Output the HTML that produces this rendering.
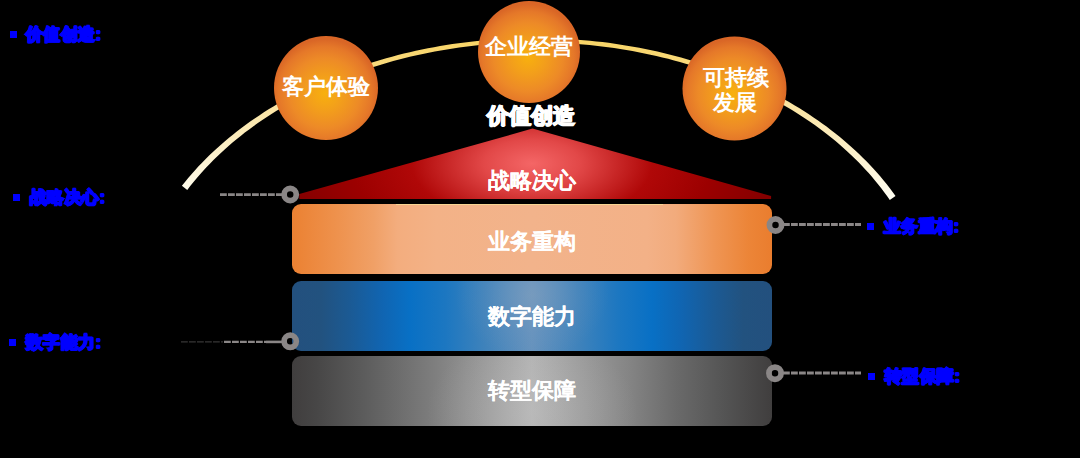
<!DOCTYPE html>
<html><head><meta charset="utf-8">
<style>
html,body{margin:0;padding:0;background:#000;}
body{width:1080px;height:458px;position:relative;overflow:hidden;font-family:"Liberation Sans",sans-serif;}
svg{position:absolute;left:0;top:0;}
.t{position:absolute;color:#fff;font-weight:bold;white-space:nowrap;line-height:1;text-shadow:0.3px 0.2px 0 #fff;}
.lb{position:absolute;color:#0000ff;font-weight:bold;white-space:nowrap;line-height:1;font-size:17px;letter-spacing:0.4px;-webkit-text-stroke:1.4px #0000ff;text-shadow:0.8px 0 0 #00f,-0.8px 0 0 #00f,0 0.8px 0 #00f,0 -0.8px 0 #00f;}
.bu{position:absolute;background:#0000ff;width:7px;height:7px;}
</style></head><body>
<svg width="1080" height="458" viewBox="0 0 1080 458">
<defs>
<linearGradient id="arcg" x1="0" y1="40" x2="0" y2="200" gradientUnits="userSpaceOnUse">
<stop offset="0" stop-color="#f8d466"/>
<stop offset="0.45" stop-color="#fbe6a8"/>
<stop offset="1" stop-color="#fffef4"/>
</linearGradient>
<radialGradient id="ball" cx="0.49" cy="0.55" r="0.52">
<stop offset="0" stop-color="#f8b00e"/>
<stop offset="0.3" stop-color="#f3a01a"/>
<stop offset="0.65" stop-color="#ed8a27"/>
<stop offset="0.86" stop-color="#e57829"/>
<stop offset="1" stop-color="#d96626"/>
</radialGradient>
<radialGradient id="tri" cx="532" cy="165" r="240" gradientUnits="userSpaceOnUse" gradientTransform="translate(532 162) scale(1 0.5) translate(-532 -162)">
<stop offset="0" stop-color="#f46666"/>
<stop offset="0.2" stop-color="#e24848"/>
<stop offset="0.5" stop-color="#b00808"/>
<stop offset="0.75" stop-color="#9c0000"/>
<stop offset="1" stop-color="#860000"/>
</radialGradient>
</defs>
<path d="M181.88,185.81 L184.99,181.90 L188.19,178.02 L191.47,174.18 L194.84,170.38 L198.29,166.62 L201.81,162.90 L205.42,159.21 L209.11,155.57 L212.88,151.97 L216.73,148.42 L220.65,144.90 L224.65,141.43 L228.72,138.01 L232.87,134.63 L237.09,131.30 L241.39,128.02 L245.75,124.78 L250.18,121.60 L254.69,118.46 L259.26,115.38 L263.89,112.35 L268.60,109.37 L273.36,106.44 L278.19,103.56 L283.09,100.74 L288.04,97.98 L293.05,95.27 L298.12,92.61 L303.25,90.01 L308.43,87.47 L313.67,84.99 L318.97,82.57 L324.31,80.20 L329.71,77.90 L335.15,75.65 L340.64,73.47 L346.18,71.35 L351.77,69.29 L357.40,67.29 L363.07,65.35 L368.79,63.48 L374.54,61.67 L380.34,59.92 L386.17,58.24 L392.03,56.63 L397.93,55.08 L403.87,53.59 L409.84,52.17 L415.83,50.82 L421.86,49.53 L427.91,48.32 L433.99,47.16 L440.09,46.08 L446.21,45.06 L452.36,44.11 L458.53,43.23 L464.71,42.42 L470.92,41.68 L477.13,41.00 L483.37,40.40 L489.61,39.86 L495.87,39.40 L502.13,39.00 L508.40,38.67 L514.68,38.41 L520.96,38.22 L527.25,38.10 L533.54,38.05 L539.83,38.07 L546.12,38.16 L552.40,38.32 L558.69,38.55 L564.96,38.85 L571.23,39.21 L577.49,39.65 L583.74,40.16 L589.97,40.73 L596.20,41.38 L602.41,42.09 L608.60,42.87 L614.78,43.73 L620.93,44.64 L627.07,45.63 L633.18,46.69 L639.27,47.81 L645.33,49.00 L651.37,50.26 L657.38,51.58 L663.36,52.97 L669.30,54.43 L675.22,55.95 L681.10,57.54 L686.95,59.19 L692.76,60.91 L698.53,62.69 L704.26,64.53 L709.95,66.44 L715.60,68.41 L721.21,70.45 L726.77,72.54 L732.28,74.70 L737.75,76.92 L743.16,79.20 L748.53,81.54 L753.85,83.94 L759.11,86.39 L764.32,88.91 L769.47,91.48 L774.56,94.11 L779.60,96.80 L784.58,99.54 L789.50,102.34 L794.36,105.19 L799.15,108.09 L803.88,111.05 L808.55,114.06 L813.15,117.13 L817.68,120.24 L822.14,123.40 L826.54,126.62 L830.86,129.88 L835.11,133.19 L839.29,136.54 L843.40,139.95 L847.43,143.40 L851.39,146.89 L855.27,150.43 L859.07,154.01 L862.79,157.63 L866.44,161.30 L870.00,165.01 L873.48,168.75 L876.88,172.54 L880.20,176.36 L883.44,180.22 L886.59,184.11 L889.65,188.04 L892.63,192.01 L895.52,196.01 L889.80,200.04 L887.04,196.10 L884.20,192.19 L881.26,188.31 L878.25,184.46 L875.14,180.65 L871.95,176.86 L868.68,173.12 L865.32,169.41 L861.88,165.73 L858.35,162.10 L854.75,158.50 L851.07,154.94 L847.30,151.42 L843.46,147.94 L839.54,144.51 L835.54,141.12 L831.47,137.78 L827.32,134.47 L823.10,131.22 L818.81,128.01 L814.44,124.85 L810.01,121.74 L805.51,118.68 L800.93,115.67 L796.30,112.71 L791.59,109.80 L786.82,106.95 L781.99,104.15 L777.10,101.40 L772.14,98.71 L767.13,96.07 L762.06,93.49 L756.93,90.97 L751.74,88.50 L746.50,86.10 L741.21,83.75 L735.86,81.46 L730.47,79.23 L725.02,77.06 L719.53,74.96 L713.99,72.91 L708.41,70.93 L702.78,69.01 L697.12,67.16 L691.41,65.36 L685.66,63.64 L679.87,61.97 L674.05,60.38 L668.19,58.84 L662.30,57.38 L656.38,55.98 L650.42,54.65 L644.44,53.38 L638.43,52.18 L632.40,51.05 L626.34,49.99 L620.25,48.99 L614.15,48.07 L608.03,47.21 L601.88,46.42 L595.72,45.70 L589.55,45.05 L583.36,44.47 L577.16,43.96 L570.95,43.52 L564.73,43.15 L558.50,42.85 L552.27,42.62 L546.03,42.46 L539.79,42.37 L533.55,42.35 L527.31,42.40 L521.07,42.52 L514.84,42.71 L508.60,42.97 L502.38,43.30 L496.16,43.71 L489.96,44.18 L483.76,44.72 L477.58,45.33 L471.41,46.01 L465.26,46.76 L459.13,47.57 L453.01,48.46 L446.91,49.42 L440.84,50.44 L434.79,51.53 L428.77,52.69 L422.77,53.92 L416.80,55.21 L410.86,56.58 L404.95,58.00 L399.07,59.50 L393.23,61.06 L387.42,62.68 L381.65,64.38 L375.92,66.13 L370.23,67.95 L364.58,69.83 L358.97,71.78 L353.41,73.79 L347.89,75.86 L342.42,77.99 L336.99,80.19 L331.62,82.44 L326.30,84.76 L321.03,87.13 L315.81,89.56 L310.65,92.05 L305.54,94.60 L300.50,97.21 L295.51,99.87 L290.58,102.58 L285.71,105.35 L280.91,108.18 L276.17,111.05 L271.49,113.98 L266.88,116.97 L262.34,120.00 L257.87,123.08 L253.46,126.21 L249.13,129.39 L244.87,132.62 L240.68,135.90 L236.56,139.22 L232.52,142.58 L228.56,145.99 L224.67,149.44 L220.86,152.94 L217.13,156.47 L213.48,160.05 L209.91,163.66 L206.42,167.32 L203.02,171.01 L199.70,174.73 L196.46,178.49 L193.31,182.29 L190.24,186.12 L187.26,189.98Z" fill="url(#arcg)"/>
<polygon points="299.3,199 299.3,194 532.5,128.6 771.1,196 771.1,199" fill="url(#tri)"/>
<circle cx="326" cy="88" r="52" fill="url(#ball)"/>
<circle cx="529" cy="52" r="51" fill="url(#ball)"/>
<circle cx="734.5" cy="88.4" r="52" fill="url(#ball)"/>
<g stroke="#8a8686" stroke-width="2.9" stroke-dasharray="6.8 1.2" fill="none">
<line x1="220" y1="194.6" x2="282" y2="194.6"/>
<line x1="224" y1="341.9" x2="266" y2="341.9" stroke-width="2.3"/>
<line x1="266" y1="341.9" x2="282" y2="341.9" stroke-dasharray="none" stroke-width="2.6"/>
<line x1="181" y1="341.9" x2="223" y2="341.9" stroke-width="1.3" opacity="0.4"/>
<line x1="783" y1="224.5" x2="861" y2="224.5"/>
<line x1="783" y1="373" x2="861" y2="373"/>
</g>
</svg>
<div style="position:absolute;left:292px;top:204px;width:480px;height:70px;border-radius:9px;background:linear-gradient(90deg,#eb8132 0%,#ee914c 9%,#f0a066 17%,#f3ad7e 22%,#f3b287 30%,#f2b38b 50%,#f3b187 74%,#f2ab7c 80%,#ef9554 88%,#ec8538 95%,#ea7d2e 100%);"></div>
<div style="position:absolute;left:396px;top:204px;width:267px;height:1px;background:#f7d593;"></div>
<div style="position:absolute;left:292px;top:281px;width:480px;height:70px;border-radius:9px;background:radial-gradient(ellipse 16% 90% at 50% 20%,rgba(140,165,190,0.45) 0%,rgba(130,160,195,0.15) 60%,rgba(40,120,200,0) 100%),linear-gradient(90deg,#23507e 0%,#22527f 6%,#1b5a94 12%,#1065b2 19%,#0870c5 24.5%,#1c77c1 32%,#3e82bb 40%,#6592bd 50%,#3e82bb 60%,#1c77c1 68%,#0870c5 75%,#1065b2 81%,#1b5a94 88%,#22527f 94%,#23507e 100%);"></div>
<div style="position:absolute;left:292px;top:356px;width:480px;height:70px;border-radius:9px;background:radial-gradient(ellipse 22% 110% at 50% 80%,rgba(200,200,200,0.3) 0%,rgba(200,200,200,0) 100%),linear-gradient(90deg,#403e3e 0%,#474646 5%,#5c5c5c 15%,#7f7f7f 30%,#9e9e9e 42%,#b3b3b3 50%,#a0a0a0 58%,#858585 70%,#6a6a6a 80%,#545454 90%,#403e3e 100%);"></div>
<svg width="1080" height="458" viewBox="0 0 1080 458">
<g stroke="#8a8686" stroke-width="5.7" fill="none">
<circle cx="290.2" cy="194.5" r="6.1"/>
<circle cx="290.2" cy="341.3" r="6.1"/>
<circle cx="775.5" cy="225" r="6.1"/>
<circle cx="775" cy="373.2" r="6.1"/>
</g>
</svg>
<div class="t" style="left:282px;top:76px;font-size:22px;text-shadow:none;">客户体验</div>
<div class="t" style="left:485px;top:36px;font-size:22px;text-shadow:none;">企业经营</div>
<div class="t" style="left:703px;top:66px;font-size:22px;text-shadow:none;text-align:center;width:64px;line-height:24.5px;">可持续<br>发展</div>
<div class="t" style="left:487px;top:105px;font-size:22px;-webkit-text-stroke:0.8px #fff;text-shadow:0.8px 0 0 #fff,-0.6px 0 0 #fff,0 0.6px 0 #fff;">价值创造</div>
<div class="t" style="left:488px;top:170px;font-size:22px;">战略决心</div>
<div class="t" style="left:488px;top:231px;font-size:22px;">业务重构</div>
<div class="t" style="left:488px;top:306px;font-size:22px;">数字能力</div>
<div class="t" style="left:488px;top:380px;font-size:22px;">转型保障</div>

<div class="bu" style="left:10px;top:31px;"></div><div class="lb" style="left:26px;top:26px;">价值创造:</div>
<div class="bu" style="left:13px;top:194px;"></div><div class="lb" style="left:30px;top:189px;">战略决心:</div>
<div class="bu" style="left:9px;top:339px;"></div><div class="lb" style="left:26px;top:334px;">数字能力:</div>
<div class="bu" style="left:867px;top:223px;"></div><div class="lb" style="left:884px;top:218px;">业务重构:</div>
<div class="bu" style="left:868px;top:373px;"></div><div class="lb" style="left:885px;top:368px;">转型保障:</div>
</body></html>
